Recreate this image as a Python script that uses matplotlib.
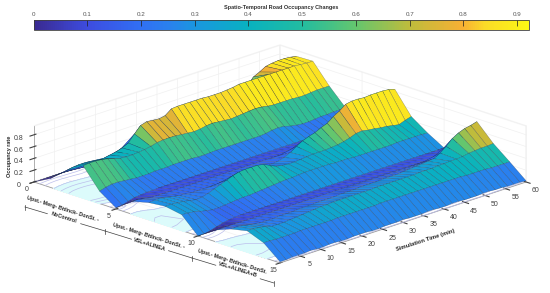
import numpy as np
import matplotlib
matplotlib.use("Agg")
import matplotlib.pyplot as plt
from matplotlib.colors import LinearSegmentedColormap, Normalize
from matplotlib.cm import ScalarMappable
from matplotlib.lines import Line2D

plt.rcParams['font.family'] = ['Liberation Sans', 'DejaVu Sans']

W, H = 550, 293

# simulation time (min), one sample every 1.5 min
time_min = [i * 1.5 for i in range(41)]
sections = list(range(16))

occ_00 = [0.0] * 41
occ_01 = [.15,.17,.18,.18,.17,.16,.15,.16,.17,.18,.20,.22,.24,.22,.21,.21,.20,.20,.20,.20,.20,.20,.20,.20,.20,.20,.20,.20,.20,.21,.22,.40,.62,.74,.79,.85,.87,.88,.88,.87,.85]
occ_02 = [.38,.40,.41,.41,.40,.39,.38,.40,.42,.45,.50,.62,.73,.76,.75,.74,.76,.84,.85,.85,.85,.85,.85,.84,.84,.84,.85,.86,.88,.88,.88,.88,.88,.88,.88,.88,.88,.88,.87,.86,.86]
occ_03 = [.55,.56,.56,.55,.53,.50,.47,.46,.46,.47,.48,.50,.53,.54,.545,.54,.53,.52,.51,.52,.54,.55,.54,.53,.52,.53,.54,.55,.56,.55,.53,.52,.52,.52,.52,.51,.51,.52,.53,.53,.53]
occ_04 = [.21,.24,.26,.26,.25,.24,.23,.23,.23,.24,.24,.24,.25,.25,.25,.25,.24,.24,.245,.25,.25,.25,.25,.25,.25,.25,.25,.26,.28,.29,.28,.25,.23,.22,.22,.23,.24,.24,.25,.25,.25]
occ_05 = [.02,.03,.06,.09,.1,.11,.11,.12,.12,.12,.12,.12,.12,.12,.12,.12,.12,.12,.12,.12,.12,.12,.12,.12,.12,.12,.12,.12,.12,.12,.12,.12,.12,.12,.12,.12,.12,.12,.12,.12,.12]
occ_06 = [.22,.22,.2,.18,.18,.18,.18,.18,.18,.18,.18,.18,.18,.18,.18,.18,.18,.18,.18,.18,.18,.18,.18,.18,.18,.18,.18,.18,.19,.2,.21,.23,.25,.3,.35,.4,.45,.5,.55,.6,.6]
occ_07 = [.29,.30,.30,.28,.26,.24,.23,.22,.22,.22,.22,.22,.23,.23,.24,.24,.24,.24,.25,.25,.26,.27,.3,.35,.42,.48,.52,.55,.6,.64,.72,.78,.86,.88,.88,.87,.88,.88,.88,.87,.84]
occ_08 = [.32,.32,.31,.30,.28,.26,.27,.3,.34,.38,.42,.46,.49,.5,.5,.5,.48,.43,.38,.36,.35,.35,.36,.37,.38,.38,.38,.39,.40,.42,.45,.49,.5,.48,.47,.45,.44,.42,.40,.44,.47]
occ_09 = [.27,.26,.25,.22,.2,.18,.18,.19,.2,.21,.22,.22,.23,.24,.25,.26,.27,.28,.28,.29,.3,.3,.3,.3,.3,.29,.29,.29,.28,.28,.28,.28,.28,.28,.28,.29,.29,.29,.29,.29,.28]
occ_10 = [.0,.0,.02,.05,.08,.1,.11,.12,.12,.12,.12,.12,.12,.12,.12,.12,.12,.12,.12,.12,.12,.12,.12,.12,.12,.12,.12,.12,.12,.12,.12,.12,.12,.12,.12,.12,.12,.12,.12,.12,.12]
occ_11 = [.19,.18,.18,.18,.18,.18,.18,.18,.18,.18,.18,.18,.18,.18,.18,.18,.18,.18,.18,.18,.18,.18,.18,.18,.18,.18,.18,.18,.18,.18,.18,.18,.18,.18,.18,.18,.2,.22,.25,.3,.35]
occ_12 = [.3,.3,.29,.27,.25,.24,.24,.24,.25,.25,.25,.26,.26,.26,.27,.27,.27,.27,.28,.28,.28,.29,.29,.29,.29,.3,.3,.3,.31,.32,.33,.34,.35,.36,.42,.5,.6,.66,.7,.72,.75]
occ_13 = [.36,.36,.35,.33,.3,.3,.3,.31,.32,.33,.34,.35,.36,.36,.37,.37,.37,.37,.37,.37,.37,.38,.38,.38,.38,.38,.38,.38,.39,.39,.39,.4,.4,.41,.41,.42,.44,.45,.46,.46,.47]
occ_14 = [.25,.25,.24,.24,.24,.24,.25,.25,.25,.25,.25,.25,.26,.26,.26,.26,.26,.26,.26,.27,.27,.27,.27,.27,.27,.27,.27,.27,.27,.27,.27,.27,.27,.26,.26,.26,.26,.25,.25,.25,.25]
occ_15 = [.02,.02,.03,.03,.03,.04,.03,.03,.04,.04,.03,.03,.04,.04,.04,.03,.03,.04,.04,.04,.05,.04,.04,.04,.05,.05,.04,.04,.05,.05,.04,.04,.04,.05,.05,.04,.04,.03,.03,.03,.02]

z_ticks = [0, 0.2, 0.4, 0.6, 0.8]
time_ticks = [5, 10, 15, 20, 25, 30, 35, 40, 45, 50, 55, 60]
section_ticks = [0, 5, 10, 15]
cbar_ticks = [0, .1, .2, .3, .4, .5, .6, .7, .8, .9]
cbar_labels = ['0', '0.1', '0.2', '0.3', '0.4', '0.5', '0.6', '0.7', '0.8', '0.9']
section_text = "Upst.- Merg- Bttlnck- DonSt."
scenarios = ["NoControl", "VSL+ALINEA", "VSL+ALINEA+B"]

occ = np.array([occ_00, occ_01, occ_02, occ_03, occ_04, occ_05, occ_06, occ_07,
                occ_08, occ_09, occ_10, occ_11, occ_12, occ_13, occ_14, occ_15])

cmap = LinearSegmentedColormap.from_list('parula_like', [
    (0.0, '#3a2a90'), (0.1 / .922, '#3d4ce0'), (0.2 / .922, '#3070f4'),
    (0.25 / .922, '#2a80ee'), (0.3 / .922, '#1a96e0'), (0.4 / .922, '#08b2c0'),
    (0.5 / .922, '#22bca0'), (0.6 / .922, '#64c66e'), (0.7 / .922, '#bebc3c'),
    (0.8 / .922, '#f8b034'), (0.84 / .922, '#fada28'), (1.0, '#fcf814')])
norm = Normalize(0, .922)

fig = plt.figure(figsize=(W / 100, H / 100), dpi=100)

# pixel helpers, y measured from the top of the picture
def fx(px):
    return px / W

def fy(py):
    return 1 - py / H

ax = fig.add_axes([-2.4 / W, -143.4 / H, 1, W / H], projection='3d',
                  proj_type='ortho', computed_zorder=False)
ax.set_box_aspect((1, 1, .1705), zoom=.875)
ax.view_init(elev=19.2, azim=-45)

X, Y = np.meshgrid(sections, time_min, indexing='ij')

ax.contourf(X, Y, occ, levels=[.2, 2], zdir='z', offset=0, colors=['#dcfbfb'], zorder=1)
ax.contour(X, Y, occ, levels=[.05, .1, .2, .3, .4], zdir='z', offset=0,
           colors=['#bcbeec'], linewidths=.5, zorder=1.5)
ax.plot_surface(X, Y, occ, rstride=1, cstride=1, facecolors=cmap(norm(occ)), shade=False,
                edgecolor=(.08, .12, .2, .45), linewidth=.3, antialiased=True, zorder=2)

ax.set_xlim(0, 15)
ax.set_ylim(0, 60)
ax.set_zlim(0, .95)

ax.set_xticks(section_ticks)
ax.set_yticks(time_ticks)
ax.set_zticks(z_ticks)
ax.set_zticklabels(['0', '0.2', '0.4', '0.6', '0.8'])
ax.tick_params(labelsize=5, colors='#404040', length=2, width=.4)
ax.tick_params(axis='x', pad=-2)
ax.tick_params(axis='y', pad=0)
ax.tick_params(axis='z', pad=-1.5)
ax.zaxis.set_ticks_position('lower')

for axis in (ax.xaxis, ax.yaxis, ax.zaxis):
    axis.set_pane_color((1, 1, 1, 1))
    axis.pane.set_edgecolor('#f2f2f2')
    axis.line.set_color('#909090')
    axis.line.set_linewidth(.5)
    axis._axinfo['grid'].update(color='#f0f0f0', linewidth=.5)

fig.text(fx(10), fy(156), "Occupancy rate", rotation=90, fontsize=4, fontweight='bold',
         color='#262626', ha='center', va='center')
fig.text(fx(425), fy(240.5), "Simulation Time (min)", rotation=18, fontsize=4.2, fontweight='bold',
         color='#262626', ha='center', va='center', rotation_mode='anchor')

# section names and scenario brackets along the front axis
for i, (sx, sy) in enumerate([(27, 198), (113, 225), (198, 251)]):
    txt = section_text if i == 2 else section_text + " -"
    fig.text(fx(sx), fy(sy), txt, rotation=-17.5, rotation_mode='anchor', fontsize=3.9,
             fontweight='bold', color='#262626', ha='left', va='center')

line_x = [25, 105, 192, 274]
line_y = [207, 231, 258, 283]
name_x = [64, 150, 238]
name_y = [218, 245, 270]
for i, name in enumerate(scenarios):
    fig.text(fx(name_x[i]), fy(name_y[i]), name, rotation=-17.5, rotation_mode='anchor',
             fontsize=3.9, fontweight='bold', color='#262626', ha='center', va='center')
    half = 1.85 * len(name)
    # two dashes of the bracket either side of the name
    x0, x1 = line_x[i], line_x[i + 1]
    y0, y1 = line_y[i], line_y[i + 1]
    xa = name_x[i] - half
    xb = name_x[i] + half
    ya = y0 + (y1 - y0) * (xa - x0) / (x1 - x0)
    yb = y0 + (y1 - y0) * (xb - x0) / (x1 - x0)
    fig.add_artist(Line2D([fx(x0), fx(xa)], [fy(y0), fy(ya)], color='#404040', lw=.5))
    fig.add_artist(Line2D([fx(xb), fx(x1)], [fy(yb), fy(y1)], color='#404040', lw=.5))
for tx, ty in zip(line_x, line_y):
    fig.add_artist(Line2D([fx(tx), fx(tx)], [fy(ty - 2.5), fy(ty + 2.5)], color='#404040', lw=.5))

# colour bar on top
cax = fig.add_axes([fx(33.5), fy(30), fx(529 - 33.5), 10 / H])
cb = fig.colorbar(ScalarMappable(norm=norm, cmap=cmap), cax=cax, orientation='horizontal')
cb.set_ticks(cbar_ticks)
cb.set_ticklabels(cbar_labels)
cax.xaxis.set_ticks_position('top')
cax.tick_params(axis='x', direction='in', length=4.5, width=.5, labelsize=4.5,
                labelcolor='#555555', color='#202020', pad=2.5)
cb.outline.set_edgecolor('#404040')
cb.outline.set_linewidth(.6)
fig.text(fx(281), fy(7), "Spatio-Temporal Road Occupancy Changes", fontsize=4, fontweight='bold',
         color='#303030', ha='center', va='center')

fig.savefig('out.png', dpi=100)
